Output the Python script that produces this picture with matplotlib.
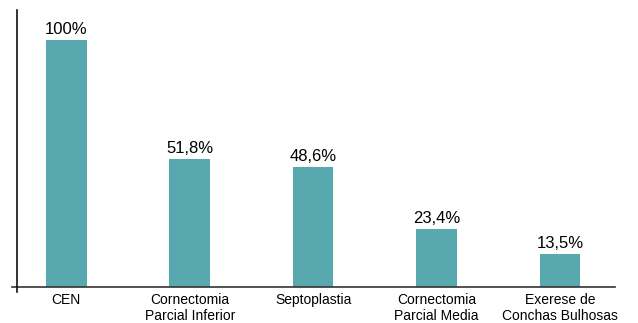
import matplotlib.pyplot as plt
from matplotlib.lines import Line2D

plt.rcParams['font.family'] = ['Liberation Sans', 'DejaVu Sans']

categories = ['CEN', 'Cornectomia\nParcial Inferior', 'Septoplastia',
              'Cornectomia\nParcial Media', 'Exerese de\nConchas Bulhosas']
values = [100, 51.8, 48.6, 23.4, 13.5]
labels = ['100%', '51,8%', '48,6%', '23,4%', '13,5%']

fig = plt.figure(figsize=(6.38, 3.23), dpi=100)
ax = fig.add_axes([0.0266, 0.096, 0.938, 0.873])

x = range(len(values))
bars = ax.bar(x, values, width=0.33, color='#58a8b0')
for b, lab in zip(bars, labels):
    ax.text(b.get_x() + b.get_width() / 2, b.get_height() + 1.2, lab,
            ha='center', va='bottom', fontsize=12)

ax.set_xlim(-0.4, 4.45)
ax.set_ylim(-2, 112)
for s in ['top', 'right', 'bottom']:
    ax.spines[s].set_visible(False)
ax.spines['left'].set_color('#111111')
ax.spines['left'].set_linewidth(1.2)
ax.add_line(Line2D([-0.44, 4.45], [0, 0], color='#333333', lw=1.2, clip_on=False))

ax.set_yticks([])
ax.set_xticks(list(x))
ax.set_xticklabels(categories, fontsize=10, linespacing=1.15)
ax.tick_params(axis='x', length=0, pad=1)

fig.savefig('out.png', dpi=100)
